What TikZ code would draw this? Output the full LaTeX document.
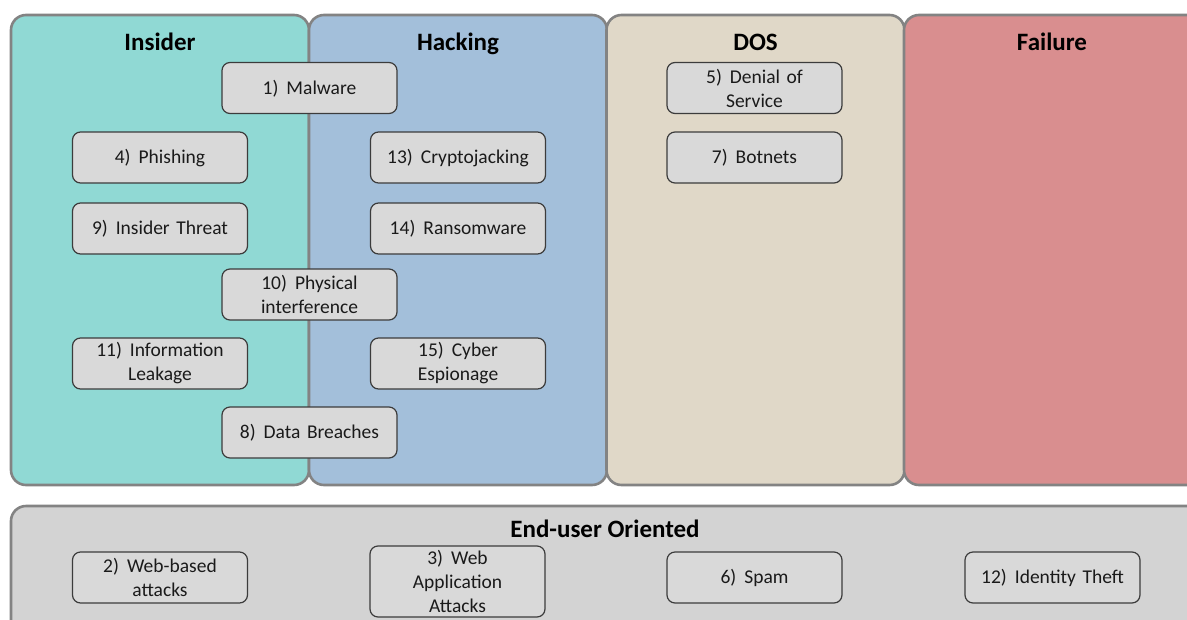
\documentclass[tikz,border=0pt]{standalone}
\usepackage{fontspec}
\setmainfont{Carlito}
\definecolor{insiderfill}{HTML}{90D9D4}
\definecolor{hackfill}{HTML}{A3BFDA}
\definecolor{dosfill}{HTML}{E0D8C8}
\definecolor{failfill}{HTML}{D98E8F}
\definecolor{endfill}{HTML}{D3D3D3}
\definecolor{itemfill}{HTML}{D9D9D9}
\definecolor{bigedge}{HTML}{838383}
\definecolor{itemedge}{HTML}{3C3C3C}
\definecolor{txt}{HTML}{1A1A1A}
% gap between a list number and its label
\newcommand{\numgap}{\hspace{8pt}}
\begin{document}
\begin{tikzpicture}[x=1pt,y=-1pt,
  group/.style={draw=bigedge,line width=2.6pt,rounded corners=15pt,
    minimum width=298pt,minimum height=470pt,inner sep=0pt},
  grouptitle/.style={font=\bfseries\fontsize{25}{30}\selectfont,text=black,
    inner sep=0pt,anchor=base},
  item/.style={draw=itemedge,line width=1.2pt,fill=itemfill,rounded corners=8pt,
    minimum width=175pt,minimum height=51pt,text width=168pt,align=center,
    inner sep=0pt,text=txt,font=\fontsize{19.5}{24}\selectfont},
  oneline/.style={text height=17.5pt,text depth=5pt}]
\useasboundingbox (0,0) rectangle (1187,619);
\clip (0,0) rectangle (1187,619);

% category panels
\node[group,fill=insiderfill] (insider) at (160,250) {};
\node[group,fill=hackfill] (hacking) at (458,250) {};
\node[group,fill=dosfill] (dos) at (755.5,250) {};
\node[group,fill=failfill] (failure) at (1053,250) {};
\node[group,fill=endfill,minimum width=1191pt,minimum height=160pt] (enduser) at (606.5,586) {};

\node[grouptitle] (tinsider) at (160,50) {Insider};
\node[grouptitle] (thacking) at (458,50) {Hacking};
\node[grouptitle] (tdos) at (755.5,50) {DOS};
\node[grouptitle] (tfailure) at (1052,50) {Failure};
\node[grouptitle] (tenduser) at (605,537) {End-user Oriented};

% threats
\node[item,oneline] (malware) at (309.5,88) {1)\numgap Malware};
\node[item,oneline] (phishing) at (160,157.5) {4)\numgap Phishing};
\node[item,oneline] (crypto) at (458,157.5) {13)\numgap Cryptojacking};
\node[item,oneline] (insthreat) at (160,228.5) {9)\numgap Insider Threat};
\node[item,oneline] (ransom) at (458,228.5) {14)\numgap Ransomware};
\node[item] (physical) at (309.5,294.5) {10)\numgap Physical\\interference};
\node[item] (leakage) at (160,363.5) {11)\numgap Information\\Leakage};
\node[item] (espionage) at (458,363.5) {15)\numgap Cyber\\Espionage};
\node[item,oneline] (breaches) at (309.5,432.5) {8)\numgap Data Breaches};
\node[item] (denial) at (754.5,88) {5)\numgap Denial of\\Service};
\node[item,oneline] (botnets) at (754.5,157.5) {7)\numgap Botnets};
\node[item] (webbased) at (160,577.5) {2)\numgap Web-based\\attacks};
\node[item,minimum height=71pt] (webapp) at (457.5,581.5) {3)\numgap Web\\Application\\Attacks};
\node[item,oneline] (spam) at (754.5,577.5) {6)\numgap Spam};
\node[item,oneline] (identity) at (1052.5,577.5) {12)\numgap Identity Theft};
\end{tikzpicture}
\end{document}
